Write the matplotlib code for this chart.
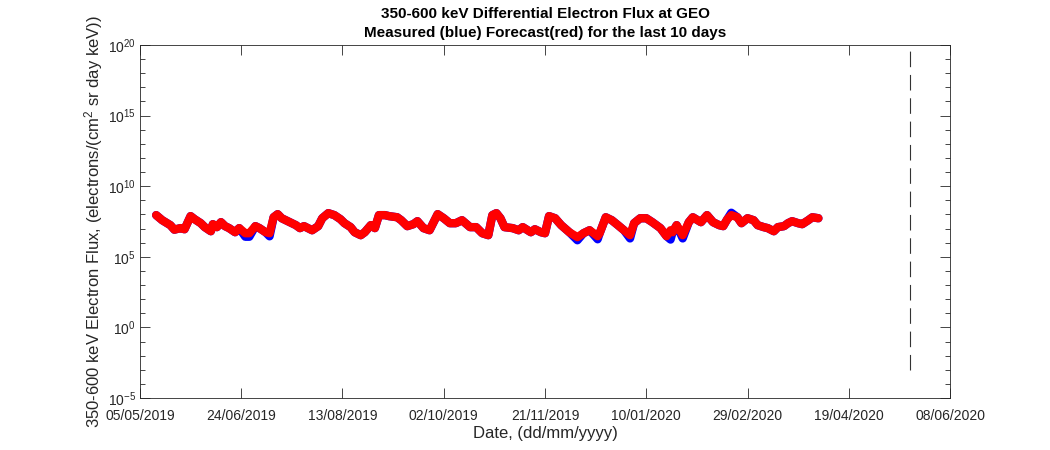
import numpy as np
import matplotlib
matplotlib.use("Agg")
import matplotlib.pyplot as plt
import matplotlib.dates as mdates
from matplotlib.ticker import LogLocator, FixedLocator

plt.rcParams['font.family'] = ['Liberation Sans', 'DejaVu Sans']
plt.rcParams['mathtext.fontset'] = 'custom'
plt.rcParams['mathtext.rm'] = 'Liberation Sans'
plt.rcParams['mathtext.it'] = 'Liberation Sans:italic'

# days since 05/05/2019 and log10 of the flux
start = np.datetime64('2019-05-05')
days = [8, 11, 15, 17, 20, 22, 25, 27, 30, 32, 35, 36, 38, 40, 42, 44, 47, 49, 52, 54,
        57, 59, 62, 64, 66, 68, 70, 74, 77, 79, 81, 85, 88, 90, 93, 96, 99, 101, 104, 106,
        109, 111, 114, 116, 118, 121, 123, 127, 129, 132, 135, 137, 140, 143, 147, 150, 153, 156, 159, 163,
        166, 169, 172, 174, 176, 178, 180, 184, 187, 189, 193, 195, 198, 200, 202, 205, 208, 212, 216, 219,
        222, 226, 227, 230, 233, 236, 239, 242, 244, 247, 250, 253, 257, 260, 262, 263, 265, 268, 271, 273,
        277, 280, 283, 286, 288, 290, 292, 295, 297, 300, 303, 305, 308, 310, 313, 315, 318, 320, 322, 325,
        327, 330, 332, 335]
forecast_log = [7.95, 7.59, 7.24, 6.92, 7.03, 6.95, 7.88, 7.66, 7.38, 7.10, 6.81, 7.31, 7.10, 7.45, 7.17, 7.03, 6.74, 7.03, 6.67, 6.67,
                7.17, 7.03, 6.74, 6.67, 7.80, 8.02, 7.73, 7.45, 7.24, 7.03, 7.17, 6.88, 7.17, 7.73, 8.09, 7.95, 7.66, 7.38, 7.10, 6.74,
                6.53, 6.74, 7.24, 7.03, 7.95, 7.95, 7.88, 7.80, 7.59, 7.17, 7.31, 7.52, 7.03, 6.88, 8.02, 7.73, 7.38, 7.38, 7.59, 7.10,
                7.10, 6.67, 6.53, 7.95, 8.09, 7.73, 7.10, 7.03, 6.88, 7.10, 6.74, 6.95, 6.74, 6.67, 7.88, 7.73, 7.24, 6.74, 6.39, 6.67,
                6.88, 6.46, 6.67, 7.80, 7.59, 7.24, 6.88, 6.53, 7.38, 7.73, 7.73, 7.45, 7.03, 6.46, 6.88, 6.74, 7.24, 6.53, 7.45, 7.80,
                7.45, 7.95, 7.45, 7.24, 7.17, 7.66, 7.95, 7.80, 7.38, 7.73, 7.59, 7.24, 7.10, 7.03, 6.81, 7.10, 7.17, 7.38, 7.52, 7.38,
                7.31, 7.59, 7.80, 7.73]
# measured values where they drop below the forecast
dip_days = [52, 54, 64, 216, 226, 242, 262, 268, 292]
dip_log = [6.42, 6.42, 6.45, 6.17, 6.24, 6.30, 6.22, 6.30, 8.12]

measured_log = list(forecast_log)
for d, v in zip(dip_days, dip_log):
    measured_log[days.index(d)] = v

forecast_day = 380
xtick_days = [0, 50, 100, 150, 200, 250, 300, 350, 400]

dates = start + np.array(days).astype('timedelta64[D]')
measured = 10.0 ** np.array(measured_log)
forecast = 10.0 ** np.array(forecast_log)

fig = plt.figure(figsize=(10.5, 4.5), dpi=100)
ax = fig.add_axes([0.1333, 0.1156, 0.7715, 0.7844])

ax.plot(dates, measured, color='blue', lw=6, solid_capstyle='round', solid_joinstyle='round')
ax.plot(dates, forecast, color='red', lw=6, solid_capstyle='round', solid_joinstyle='round')

fday = start + np.timedelta64(forecast_day, 'D')
ax.plot([fday, fday], [1e-3, 1e20], color='#333333', lw=0.8, linestyle=(0, (14, 7)))

ax.set_yscale('log')
ax.set_ylim(1e-5, 1e20)
ax.set_xlim(start, start + np.timedelta64(400, 'D'))

ax.yaxis.set_major_locator(FixedLocator([1e-5, 1e0, 1e5, 1e10, 1e15, 1e20]))
ax.yaxis.set_minor_locator(LogLocator(base=10, subs=(1.0,), numticks=40))
ax.yaxis.set_minor_formatter(matplotlib.ticker.NullFormatter())

xt = [start + np.timedelta64(d, 'D') for d in xtick_days]
ax.set_xticks(xt)
ax.xaxis.set_major_formatter(mdates.DateFormatter('%d/%m/%Y'))

ax.tick_params(which='both', direction='in', top=True, right=True, colors='#262626',
               labelsize=10, width=0.6)
ax.tick_params(which='major', length=7)
ax.tick_params(which='minor', length=3.5)
ax.tick_params(axis='x', which='both', pad=8)
ax.tick_params(axis='y', which='major', pad=3)
ax.tick_params(axis='x', which='minor', top=False, bottom=False)
for s in ax.spines.values():
    s.set_color('#262626')
    s.set_linewidth(0.6)

ax.set_xlabel('Date, (dd/mm/yyyy)', fontsize=12, color='#262626', labelpad=2)
ax.set_ylabel('350-600 keV Electron Flux, (electrons/(cm$^2$ sr day keV))', fontsize=12,
              color='#262626', labelpad=2)
ax.set_title('350-600 keV Differential Electron Flux at GEO\nMeasured (blue) Forecast(red) for the last 10 days',
             fontsize=11, fontweight='bold', color='black', pad=6, linespacing=1.45)

fig.savefig('out.png', dpi=100)
